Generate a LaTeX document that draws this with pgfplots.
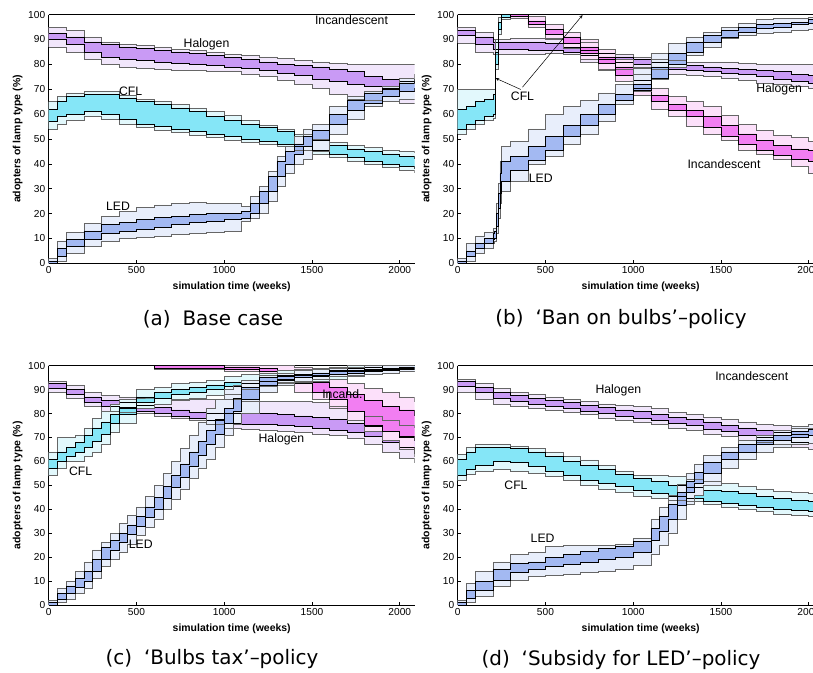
\documentclass[border=0pt]{standalone}
\usepackage{pgfplots}
\pgfplotsset{compat=1.18}
\usepackage{pgfplotstable}
\usepgfplotslibrary{fillbetween}
\usepackage{fontspec}
\setmainfont{Liberation Sans}
\newfontfamily\capfont{DejaVu Sans}
\definecolor{halI}{HTML}{C99AF5}
\definecolor{halO}{HTML}{F1E6FB}
\definecolor{cflI}{HTML}{85E6F7}
\definecolor{cflO}{HTML}{E2F8FC}
\definecolor{ledI}{HTML}{A3B9F2}
\definecolor{ledO}{HTML}{E8EEFB}
\definecolor{incI}{HTML}{F27EF2}
\definecolor{incO}{HTML}{FCE0FA}

% ---------- (a) Base case ----------
\pgfplotstableread{
x iu il ou ol
0 92.5 90 95 87
100 91 88 93.5 85
200 89 85 91 82
300 88 83 89 80
400 87 82 88 79
500 86.5 81.5 87.5 78.5
600 85.5 81 87 78
700 85 80.5 86 77.5
800 84.5 80 85.5 77.5
900 83.5 79.5 85 77
1000 82.8 79 84 77
1100 82 78.5 83.5 76
1200 81 77.5 83 75
1300 80 76.5 82.5 73.5
1400 79.5 75.5 81.5 72
1500 79 74 81 70.5
1600 78 73 80.5 68
1700 77 72 80 66
1800 75 71 80 65.5
1900 74 70 80 65
2000 73 69 80 64.5
2085 72.5 69 80 64.5
}\tAhal
\pgfplotstableread{
x iu il ou ol
0 62 57 65 54
50 65 59 67 56
100 67 60 68.5 57.5
200 68 61 69 59
300 68 60 69 58
400 66.5 58 67.5 56
500 65 56 66 54.5
600 64 55 65 53.5
700 62.5 54 64 52.5
800 61 53 62.5 51.5
900 59 52 61 50.5
1000 57.5 51 59.5 49.5
1100 56 50 57.5 48.5
1200 54.5 49 55.5 48
1300 53 48 54 47
1400 51 47 52 45.5
1500 49.5 45.5 50 44
1600 47.5 44 48.5 42.5
1700 46 42.5 47.5 41
1800 45 41 46.5 40
1900 44 40 45.5 38.5
2000 43 39 45 37.5
2085 42 38 44.5 36.5
}\tAcfl
\pgfplotstableread{
x iu il ou ol
0 1 0 2 0
50 6 3 9 1
100 9.5 7 12.5 4
200 13 9.5 16 7
300 15.5 12 19 9
400 16.5 13 21 10
500 17.5 13.5 22.5 10.5
600 18.5 14.5 23.5 11
700 19 15.5 24 11.5
800 19.5 16.5 24.5 12
900 20 17 24 12.5
1000 20 17.5 24 13
1100 21 18 23 17
1150 24 20 27 18
1200 29 24 31 20
1250 35 29 37 25
1300 41 35 43 31
1350 45 40 47 36
1400 48 44 51 40
1450 51 47 54 42
1500 53.5 49.5 56 45
1600 60 56 63 52
1700 65.5 61.5 67 58
1800 68.5 64.5 69 63
1900 70.5 67 71 65
2000 72.5 69 74.5 66
2085 74 70.5 76 66
}\tAled

% ---------- (b) Ban on bulbs ----------
\pgfplotstableread{
x iu il ou ol
0 93.5 91.5 95 88.5
100 91 88 93 85
200 89 86 90 84
300 89 86 90.5 84
400 89 85.5 90.5 84
500 88.5 85.5 90.5 84.5
600 87 85 93 84
700 85.5 83.5 89 81
800 84.5 82 86 78
900 83 81 84 78
1000 82 80 83 78.5
1100 81 79 82 78
1200 80 78 81.5 76
1300 79.5 77.5 81 75.5
1400 79 77 81 75
1500 78.5 76.5 81 74.5
1600 78 76 80.5 73.5
1700 77.5 75 80 72.5
1800 77 74 80 72
1900 76 73 80 71
2000 75.5 72.5 80 70.5
2085 75.5 72 80 70.5
}\tBhal
\pgfplotstableread{
x iu il ou ol
0 62 54 70 52
50 63 56 70 54
100 65 57.5 70 56
150 66 59 70 57.5
205 68 60 70 58.5
215 85 80 90 78
230 97 94 99 92
250 100 99 100 98
300 100 100 100 100
2085 100 100 100 100
}\tBcfl
\pgfplotstableread{
x iu il ou ol
0 1 0 2 0
50 5 3 8 1
100 8 6 11 4
150 10 8 12.5 6
200 12 9.5 14 8
210 13 10 14 9
220 20 15 24 12
230 28 22 32 18
240 36 28 41 24
250 41 33 47 29
300 43 37.5 49 33
400 47 41.5 54 40
500 51 45.5 60 43
600 55.5 51 63 48
700 60 55.5 65.5 52
800 64 60 68.5 57
900 68 65.5 72 64
1000 72 69.5 79 69
1100 79 74.5 84.5 74
1200 84.5 80 88.5 79
1300 89 85 91 83.5
1400 91.5 89 93 87
1500 93.5 91 95 90.5
1600 95 93 96.5 91.5
1700 96 94.5 98 92.5
1800 96.5 95 98.5 93
1900 97 96 98.5 93.5
2000 98 96.5 99 94
2085 98 96.5 99 94
}\tBled
\pgfplotstableread{
x iu il ou ol
0 100 100 100 100
300 100 99.5 100 98.5
400 97.5 96 99.5 95
500 94 92 96 90
600 91 88.5 93 86.5
700 87 84.5 90 82
800 83 80.5 86 77.5
900 79 75.5 82 73
1000 73.5 70.5 76 67.5
1100 67.5 65 70.5 62
1200 64 61.5 67 59
1300 61.5 59 65 55
1400 59 54.5 63 52
1500 55.5 51 59.5 49.5
1600 52 48 56 45.5
1700 49.5 45.5 53.5 44
1800 47.5 43.5 51.5 42
1900 46 42 50.5 39
2000 45.5 41 49 36
2085 45 40 48.5 35
}\tBinc

% ---------- (c) Bulbs tax ----------
\pgfplotstableread{
x iu il ou ol
0 92.5 90.5 93.5 89
100 90 88 92 86.5
200 87 84.5 89 83
300 85.5 83 87.5 81
400 84.5 82 87 80.5
500 83.5 81 86.5 80
600 82.5 80 86.5 79
700 81.5 79 86 78
800 80.5 78 86 77
900 80 77 86 75.5
1000 80 76 86 74
1100 80 75.5 85 73.5
1200 80 75.5 85 73
1300 79.5 75 85 72.5
1400 79 74.5 85 72
1500 78.5 74 84.5 71.5
1600 77.5 73 83 71
1700 76 72 81 69.5
1800 74.5 70.5 79 67
1900 72.5 68 77 64
2000 70 66 75 61.5
2085 68.5 63 74 59.5
}\tChal
\pgfplotstableread{
x iu il ou ol
0 61 57 64 54
50 64 60 70 57
100 66 62 70 60
150 68 64 71 60
200 71 66 74 62
250 74 68.5 78 64
300 76.5 71.5 81 67
350 79.5 76 84 72
400 82.5 79.5 86 76
500 87 84.5 90 82
600 89 86.5 91 84
700 90 88 92.5 85.5
800 91 89 93 86.5
900 92 90 94 87.5
1000 93 91.5 95.5 88
1100 94 92.5 96.5 90
1200 95 93.5 97 91.5
1300 96 94.5 98 92.5
1400 96.5 95 98.5 93
1500 97 95.5 99 93.5
1600 98 96.5 99.5 94.5
1700 99 97.5 100 95.5
1800 99.5 98 100 96.5
1900 100 98.5 100 97
2000 100 99 100 97.5
2085 100 99 100 97.5
}\tCcfl
\pgfplotstableread{
x iu il ou ol
0 1 0 2 0
50 5 2.5 7 1
100 8 5 10 2.5
150 11 7.5 14 5
200 14 10 18 7
250 19 14 23 11
300 24 19 26 16
350 27 23 30 19
400 30 26 34 22
450 33.5 29.5 37.5 25.5
500 37 33 41 29
550 41 36.5 45.5 32.5
600 45 40 50 36
650 49.5 44.5 55 40
700 54 49 60 44
750 59 53.5 65.5 48.5
800 64 58 71 53
850 68.5 62.5 76.5 57
900 73 67 82 61
950 77.5 71.5 86 66
1000 82 76 90 71
1050 86.5 81 92 75.5
1100 91 86 94 80
1200 95 92 96 89
1300 96 94 97 92
1400 96.5 95 98 93.5
1500 97 96 98.5 94.5
1600 97.5 96.5 99 95.5
1700 98 97 99.5 96
1800 98.5 97.5 100 96.5
1900 99 98 100 97
2000 99.5 98.5 100 97.5
2085 99.5 98.5 100 97.5
}\tCled
\pgfplotstableread{
x iu il ou ol
0 100 100 100 100
600 100 99 100 98.5
1000 99.5 98.5 100 97.5
1200 99 97.5 100 96
1300 98 95.5 100 93
1400 96 92.5 99.5 89
1500 93 89 97 86
1600 91 86 94.5 82
1700 88 81 92.5 77
1800 85.5 75 90.5 72.5
1900 83 72.5 89 69
2000 81.5 70.5 87 65
2085 79 70 85 62
}\tCinc

% ---------- (d) Subsidy for LED ----------
\pgfplotstableread{
x iu il ou ol
0 93.3 91.2 94.3 89
100 91 89 92.5 86
200 89 86.5 90.5 84
300 87.5 85 89 83
400 86.5 84 88 82
500 85.5 83 87 81.5
600 84.5 82 86 80.5
700 83.5 81 85 79.5
800 82.5 80 84 78
900 81.5 79 83.5 77
1000 80.8 78 83 76.5
1100 79.5 77 82 75.5
1200 78.5 76 80.5 74
1300 77.5 75 79.5 73
1400 76.5 73.5 78.5 71.5
1500 75.2 72.4 77.5 70.3
1600 74 71 76.5 69
1700 73 70 75.5 68
1800 72 69 75 67
1900 71.5 68 74 66
2000 71 67.5 74 65
2085 70.5 67 73.5 64.5
}\tDhal
\pgfplotstableread{
x iu il ou ol
0 61 54 63 52
50 64 56.5 66 54.5
100 66 58.5 67 55.7
200 66 60 67 56.5
300 65.5 59.5 66.5 56
400 64 58 65.5 55
500 62 56 64 53.6
600 60 54 62 52
700 58.5 52.2 60.6 50
800 56.5 51 58.5 48.5
900 54.5 49.5 56 47
1000 53 48 54.3 45.3
1100 51.5 46.5 54 44.5
1200 50 45.3 53.6 43.9
1300 49 44.5 52.5 43.5
1400 48 43.5 51.5 42
1500 47.4 42.5 50.8 41
1600 46.5 41.5 49.5 40
1700 45.5 40.8 48.5 39
1800 44.5 40 47.5 38
1900 43.8 39.5 47 37.5
2000 43.2 39 46.7 36.9
2085 42.5 38.5 45.5 36.5
}\tDcfl
\pgfplotstableread{
x iu il ou ol
0 1 0 2 0
50 6 3 9 1
100 10 6 14 3.5
200 15 10.5 18 8
300 17.5 13.5 21 10.5
400 18 15 22 12
500 20 16 24.5 12.5
600 21 17 25 13
700 22.5 18 25 13.5
800 23.5 19 25 14
900 24.5 20 25.5 15
1000 26.5 22 28 16.5
1100 32 27 36 21
1150 37 31 41 25
1200 42 36 46 30
1250 47 41.5 50.5 36
1300 51.5 47 55 42
1350 55.5 51 59 46
1400 59.5 55 62.5 50
1500 64 61 66 57
1600 67 64 69 61
1700 69 67 71 64
1800 71 69 73 66
1900 72.5 70 74.5 67
2000 73.5 71 75.5 67.5
2085 74 71.5 76 67.5
}\tDled

\newcommand{\lampband}[4]{%
  \addplot[const plot, black!60, line width=0.6bp, name path=#4ou] table[x=x,y=ou]{#1};
  \addplot[const plot, black!60, line width=0.6bp, name path=#4ol] table[x=x,y=ol]{#1};
  \addplot[const plot, black, line width=0.6bp, name path=#4iu] table[x=x,y=iu]{#1};
  \addplot[const plot, black, line width=0.6bp, name path=#4il] table[x=x,y=il]{#1};
  \addplot[fill=#2, draw=none] fill between[of=#4ou and #4ol];
  \addplot[fill=#3, draw=none] fill between[of=#4iu and #4il];
}

\pgfplotsset{lampaxis/.style={
  scale only axis, width=366bp, anchor=south west,
  xmin=0, xmax=2085, ymin=0, ymax=100,
  axis x line*=box, axis y line*=left,
  axis line style={-, black, line width=0.8bp},
  xtick={0,500,1000,1500,2000}, ytick={0,10,...,100},
  xtick pos=left, ytick pos=left,
  tick style={black, line width=0.6bp}, major tick length=3bp,
  tick label style={font=\fontsize{10.2}{12}\selectfont},
  /pgf/number format/assume math mode=true,
  /pgf/number format/1000 sep={},
  xlabel={simulation time (weeks)},
  ylabel={adopters of lamp type (\%)},
  label style={font=\fontsize{10.5}{12}\selectfont\bfseries},
  xlabel style={at={(axis description cs:0.5,0)}, anchor=center, yshift=-23.5bp},
  ylabel style={at={(axis description cs:-0.0847,0.5)}, anchor=center},
  set layers,
}}
\tikzset{lbl/.style={font=\fontsize{12.3}{14}\selectfont, inner sep=0pt}}

\begin{document}
\begin{tikzpicture}

% (a)
\begin{axis}[lampaxis, at={(48.7bp,409.7bp)}, height=248.7bp]
  \lampband{\tAhal}{halO}{halI}{ah}
  \lampband{\tAcfl}{cflO}{cflI}{ac}
  \lampband{\tAled}{ledO}{ledI}{al}
  \node[lbl] at (axis cs:1725,97.8) {Incandescent};
  \node[lbl] at (axis cs:899,88.1) {Halogen};
  \node[lbl] at (axis cs:467,69.3) {CFL};
  \node[lbl] at (axis cs:395,22.8) {LED};
\end{axis}

% (b)
\begin{axis}[lampaxis, at={(457.7bp,409.7bp)}, height=248.7bp]
  \lampband{\tBhal}{halO}{halI}{bh}
  \lampband{\tBinc}{incO}{incI}{bi}
  \lampband{\tBcfl}{cflO}{cflI}{bc}
  \lampband{\tBled}{ledO}{ledI}{bl}
  \draw[-stealth, black, line width=0.5bp] (axis cs:359,69.9) -- (axis cs:217,74.4);
  \draw[-stealth, black, line width=0.5bp] (axis cs:369,70.8) -- (axis cs:711,99.8);
  \node[lbl] at (axis cs:369,67) {CFL};
  \node[lbl] at (axis cs:473,34.2) {LED};
  \node[lbl] at (axis cs:1517,39.9) {Incandescent};
  \node[lbl] at (axis cs:1831,69.9) {Halogen};
\end{axis}

% (c)
\begin{axis}[lampaxis, at={(48.7bp,68bp)}, height=239.3bp]
  \lampband{\tChal}{halO}{halI}{ch}
  \lampband{\tCinc}{incO}{incI}{ci}
  \lampband{\tCcfl}{cflO}{cflI}{cc}
  \lampband{\tCled}{ledO}{ledI}{cl}
  \node[lbl] at (axis cs:1673,88.2) {Incand.};
  \node[lbl] at (axis cs:1326,69.2) {Halogen};
  \node[lbl] at (axis cs:182,56) {CFL};
  \node[lbl] at (axis cs:524,25.4) {LED};
\end{axis}

% (d)
\begin{axis}[lampaxis, at={(457.7bp,68bp)}, height=239.3bp]
  \lampband{\tDhal}{halO}{halI}{dh}
  \lampband{\tDcfl}{cflO}{cflI}{dc}
  \lampband{\tDled}{ledO}{ledI}{dl}
  \node[lbl] at (axis cs:1675,95.8) {Incandescent};
  \node[lbl] at (axis cs:915,89.8) {Halogen};
  \node[lbl] at (axis cs:332,50.1) {CFL};
  \node[lbl] at (axis cs:484,27.9) {LED};
\end{axis}

\node[font=\capfont\fontsize{20}{24}\selectfont] at (213bp,354bp) {(a)\hspace{0.6em}Base case};
\node[font=\capfont\fontsize{20}{24}\selectfont] at (621bp,354bp) {(b)\hspace{0.6em}‘Ban on bulbs’–policy};
\node[font=\capfont\fontsize{20}{24}\selectfont] at (212bp,14bp) {(c)\hspace{0.6em}‘Bulbs tax’–policy};
\node[font=\capfont\fontsize{20}{24}\selectfont] at (621bp,13bp) {(d)\hspace{0.6em}‘Subsidy for LED’–policy};

\pgfresetboundingbox
\path[use as bounding box] (0,0) rectangle (813bp,673bp);
\end{tikzpicture}
\end{document}
